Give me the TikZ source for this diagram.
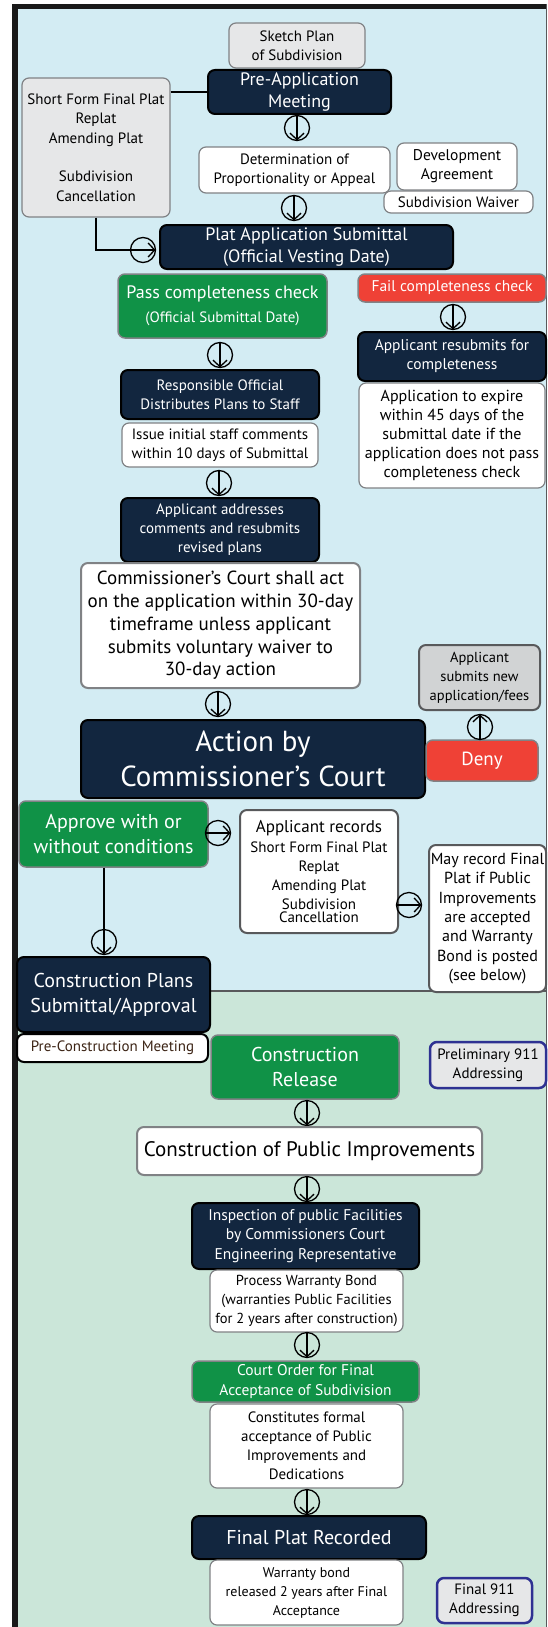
\documentclass[tikz,border=0pt]{standalone}
\usepackage{fontspec}
\setmainfont{PT Sans}
\usetikzlibrary{arrows.meta,calc}
\definecolor{navy}{RGB}{18,38,63}
\definecolor{grn}{RGB}{16,146,71}
\definecolor{rd}{RGB}{239,65,54}
\definecolor{bgblue}{RGB}{211,236,243}
\definecolor{bggreen}{RGB}{203,230,217}
\definecolor{lgray}{RGB}{230,231,232}
\definecolor{mgray}{RGB}{209,211,212}
\definecolor{bgray}{RGB}{128,130,133}
\definecolor{dgray}{RGB}{88,89,91}
\definecolor{addrblue}{RGB}{46,49,146}
\definecolor{txtbrown}{RGB}{60,36,21}
\newcommand\fs[2]{\fontsize{#1}{#2}\selectfont}
\begin{document}
\begin{tikzpicture}[x=1pt,y=-1pt,
  box/.style={rounded corners=7pt, align=center, inner sep=0pt, line width=1.3pt},
  nbox/.style={box, fill=navy, draw=black, line width=2pt, text=white},
  gbox/.style={box, fill=grn, draw=bgray, line width=1.5pt, text=white},
  rbox/.style={box, fill=rd, draw=bgray, line width=1.5pt, text=white},
  wbox/.style={box, fill=white, draw=bgray, line width=1.2pt, text=black},
  wthick/.style={box, fill=white, draw=dgray, line width=2pt, text=black},
  graybox/.style={box, fill=lgray, draw=bgray, line width=1.2pt, text=black},
  addr/.style={box, fill=lgray, draw=addrblue, line width=2.5pt, text=black},
  cir/.style={circle, draw=black, line width=1.3pt, minimum size=25pt, inner sep=0pt},
  carrow/.style={line width=1.3pt, -{Straight Barb[length=6.5pt,width=14pt]}, shorten >=0.6pt, shorten <=0.6pt},
  link/.style={line width=1.8pt, draw=black}
]
\useasboundingbox (0,0) rectangle (548,1627);
% backgrounds and frame
\fill[bgblue] (18,9) rectangle (546,991);
\fill[bggreen] (18,991) rectangle (546,1627);
\draw[dgray, line width=2pt] (18,991) -- (546,991);
\fill[black!90] (12,4) rectangle (546,9);
\fill[black!90] (12,4) rectangle (18,1627);
\draw[dgray, line width=1pt] (546,4) -- (546,1627);

% top part
\node[graybox, minimum width=136pt, minimum height=45pt, font=\fs{15}{19}] (sketch) at (297,45.5) {Sketch Plan\\of Subdivision};
\node[nbox, minimum width=183pt, minimum height=44pt, font=\fs{18}{22}] (preapp) at (299.5,92) {Pre-Application\\Meeting};
\node[graybox, minimum width=148pt, minimum height=139pt, font=\fs{15}{19.3}] (left) at (96,147.5) {Short Form Final Plat\\Replat\\Amending Plat\\[19.3pt]Subdivision\\Cancellation};
\node[cir] (c1) at (297,128) {};
\node[wbox, minimum width=191pt, minimum height=46pt, font=\fs{15}{18.5}] (determ) at (294.5,170) {Determination of\\Proportionality or Appeal};
\node[wbox, minimum width=120pt, minimum height=47pt, font=\fs{15.5}{19}] (devagr) at (457,166.5) {Development\\Agreement};
\node[wbox, minimum width=149pt, minimum height=22pt, font=\fs{15}{18}] (waiver) at (458.5,202) {Subdivision Waiver};
\node[cir] (c2) at (294,208) {};
\node[nbox, minimum width=293pt, minimum height=44pt, font=\fs{18}{22}] (platapp) at (306.5,247) {Plat Application Submittal\\(Official Vesting Date)};
\node[cir] (c3) at (143,250) {};

% completeness
\node[gbox, minimum width=209pt, minimum height=64pt, font=\fs{18}{22}] (pass) at (222.5,306) {Pass completeness check\\[2pt]{\fs{15}{18}(Official Submittal Date)}};
\node[rbox, minimum width=188pt, minimum height=28pt, font=\fs{15.5}{18}] (fail) at (452,288) {Fail completeness check};
\node[cir] (c4) at (453,317) {};
\node[nbox, minimum width=188pt, minimum height=49pt, font=\fs{15.5}{19}] (resub) at (452,356.5) {Applicant resubmits for\\completeness};
\node[wbox, minimum width=186pt, minimum height=105pt, font=\fs{16}{19}] (expire) at (452,435.5) {Application to expire\\within 45 days of the\\submittal date if the\\application does not pass\\completeness check};
\node[cir] (c5) at (220,355) {};
\node[nbox, minimum width=198pt, minimum height=49pt, font=\fs{15}{19}] (respons) at (220,394.5) {Responsible Official\\Distributes Plans to Staff};
\node[wbox, minimum width=196pt, minimum height=44pt, font=\fs{15}{19}] (issue) at (220,445) {Issue initial staff comments\\within 10 days of Submittal};
\node[cir] (c6) at (219,483) {};
\node[nbox, minimum width=198pt, minimum height=64pt, font=\fs{15}{19}] (addresses) at (220,530) {Applicant addresses\\comments and resubmits\\revised plans};
\node[wthick, draw=bgray, minimum width=279pt, minimum height=125pt, font=\fs{19}{22.7}] (shallact) at (220.5,625.5) {Commissioner’s Court shall act\\on the application within 30-day\\timeframe unless applicant\\submits voluntary waiver to\\30-day action};
\node[cir] (c7) at (218,704) {};
\node[nbox, minimum width=344pt, minimum height=78pt, font=\fs{29}{35}] (action) at (253,759) {Action by\\Commissioner’s Court};
\node[rbox, minimum width=112pt, minimum height=41pt, font=\fs{19}{22}] (deny) at (482,760.5) {Deny};
\node[cir] (c8) at (480,727) {};
\node[box, fill=mgray, draw=dgray, line width=2pt, minimum width=121pt, minimum height=65pt, font=\fs{14.5}{19}] (newapp) at (479.5,677.5) {Applicant\\submits new\\application/fees};

% approval
\node[gbox, minimum width=189pt, minimum height=66pt, font=\fs{20}{25}] (approve) at (113.5,834) {Approve with or\\without conditions};
\node[cir] (c9) at (218,833) {};
\node[wthick, minimum width=158pt, minimum height=123pt, font=\fs{15}{19.3}] (records) at (319,871.5) {{\fs{17}{20}Applicant records}\\Short Form Final Plat\\Replat\\Amending Plat\\Subdivision\\[-7pt]Cancellation};
\node[cir] (c10) at (409,905) {};
\node[wthick, minimum width=117pt, minimum height=147pt, font=\fs{16}{19.3}] (mayrecord) at (487.5,918.5) {May record Final\\Plat if Public\\Improvements\\are accepted\\and Warranty\\Bond is posted\\(see below)};
\node[cir] (c11) at (104,942) {};
\node[nbox, minimum width=193pt, minimum height=75pt, font=\fs{20}{25}] (consplans) at (113.5,994.5) {Construction Plans\\Submittal/Approval};

% construction
\node[box, fill=white, draw=black, line width=2pt, text=txtbrown, minimum width=191pt, minimum height=28pt, font=\fs{15}{18}] (precons) at (112.5,1048) {Pre-Construction Meeting};
\node[gbox, minimum width=188pt, minimum height=64pt, font=\fs{20}{25}] (release) at (305,1067) {Construction\\Release};
\node[addr, minimum width=116pt, minimum height=46pt, font=\fs{15}{19}] (prelim) at (488,1065) {Preliminary 911\\Addressing};
\node[cir] (c12) at (307,1113) {};
\node[wthick, draw=bgray, minimum width=345pt, minimum height=48pt, font=\fs{21}{25}] (conspub) at (309.5,1151) {Construction of Public Improvements};
\node[cir] (c13) at (307,1189) {};
\node[nbox, minimum width=227pt, minimum height=66pt, font=\fs{15.5}{19.7}] (inspect) at (305.5,1236) {Inspection of public Facilities\\by Commissioners Court\\Engineering Representative};
\node[wbox, minimum width=193pt, minimum height=62pt, font=\fs{14.5}{19}] (warranty) at (306.5,1301) {Process Warranty Bond\\(warranties Public Facilities\\for 2 years after construction)};
\node[cir] (c14) at (307,1345) {};
\node[gbox, minimum width=227pt, minimum height=41pt, font=\fs{15.5}{20}] (court) at (305.5,1381.5) {Court Order for Final\\Acceptance of Subdivision};
\node[wbox, minimum width=193pt, minimum height=84pt, font=\fs{15}{19}] (constitutes) at (306.5,1446) {Constitutes formal\\acceptance of Public\\Improvements and\\Dedications};
\node[cir] (c15) at (307,1502) {};
\node[nbox, minimum width=234pt, minimum height=43pt, font=\fs{20}{24}] (finalplat) at (309,1537.5) {Final Plat Recorded};
\node[wbox, minimum width=193pt, minimum height=65pt, font=\fs{14}{19}] (bondrel) at (306.5,1592.5) {Warranty bond\\released 2 years after Final\\Acceptance};
\node[addr, minimum width=95pt, minimum height=45pt, font=\fs{15}{19}] (final911) at (484.5,1600.5) {Final 911\\Addressing};

% connectors
\draw[link] (left.east |- preapp.west) -- (preapp.west);
\draw[link] (left.south) |- (c3.west);
\draw[link] (c11 |- approve.south) -- (c11.north);
\foreach \c in {c1,c2,c4,c5,c6,c7,c11,c12,c13,c14,c15}{
  \draw[carrow] (\c.north) -- (\c.south);
}
\draw[carrow] (c3.west) -- (c3.east);
\draw[carrow] (c9.west) -- (c9.east);
\draw[carrow] (c10.west) -- (c10.east);
\draw[carrow] (c8.south) -- (c8.north);
\end{tikzpicture}
\end{document}
